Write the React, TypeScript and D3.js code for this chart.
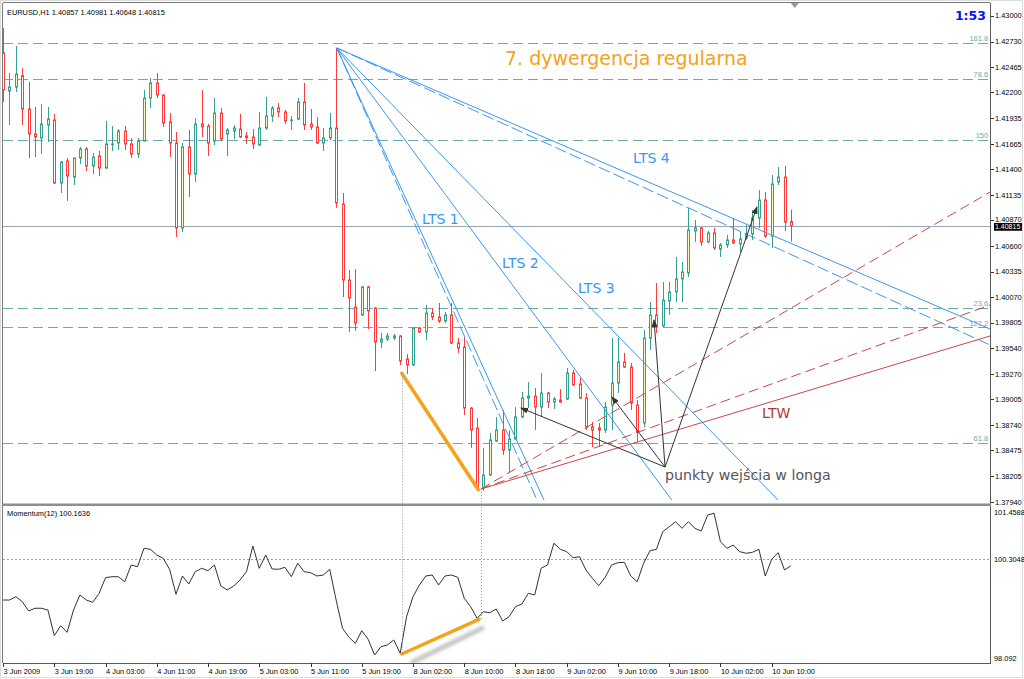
import { useEffect, useRef } from "react";
import * as d3 from "d3";

const W = 1024;
const H = 679;

// bar index -> label (H1 bars, every 8 bars)
const timeBars = [0, 8, 16, 24, 32, 40, 48, 56, 64, 72, 80, 88, 96, 104, 112, 120];
const timeLabels = ["3 Jun 2009", "3 Jun 19:00", "4 Jun 03:00", "4 Jun 11:00", "4 Jun 19:00", "5 Jun 03:00", "5 Jun 11:00", "5 Jun 19:00", "8 Jun 02:00", "8 Jun 10:00", "8 Jun 18:00", "9 Jun 02:00", "9 Jun 10:00", "9 Jun 18:00", "10 Jun 02:00", "10 Jun 10:00"];

const priceTicks = [1.43, 1.4273, 1.42465, 1.422, 1.41935, 1.41665, 1.414, 1.41135, 1.4087, 1.406, 1.40335, 1.4007, 1.39805, 1.3954, 1.3927, 1.39005, 1.3874, 1.38475, 1.38205, 1.3794];

const opens = [
  1.42611, 1.42215, 1.42257, 1.42375, 1.42028, 1.41768, 1.41726, 1.41861, 1.41913, 1.41258,
  1.41487, 1.4132, 1.41518, 1.41612, 1.41435, 1.41539, 1.41414, 1.41659, 1.41674, 1.41799,
  1.41664, 1.4156, 1.41695, 1.42142, 1.42299, 1.42174, 1.41893, 1.41674, 1.4079, 1.41633,
  1.41352, 1.41872, 1.41851, 1.41695, 1.41986, 1.41768, 1.41799, 1.4182, 1.41747, 1.41737,
  1.41653, 1.4183, 1.41955, 1.42038, 1.41997, 1.41908, 1.41924, 1.42101, 1.41872, 1.41841,
  1.41674, 1.41726, 1.4183, 1.41039, 1.40248, 1.39967, 1.39884, 1.40176, 1.39957, 1.39603,
  1.39634, 1.39645, 1.39666, 1.39426, 1.39364, 1.39749, 1.39707, 1.39905, 1.39863, 1.39822,
  1.39884, 1.39593, 1.39551, 1.38916, 1.38708, 1.38084, 1.38219, 1.38573, 1.38687, 1.38479,
  1.38594, 1.38823, 1.3902, 1.39041, 1.38926, 1.39072, 1.38979, 1.39, 1.3901, 1.3928,
  1.39166, 1.3902, 1.38719, 1.38708, 1.38687, 1.38947, 1.39176, 1.39395, 1.39343, 1.38947,
  1.3876, 1.39645, 1.39884, 1.3977, 1.4003, 1.40124, 1.40259, 1.40322, 1.40758, 1.4079,
  1.40644, 1.40738, 1.40571, 1.40613, 1.40665, 1.40623, 1.40686, 1.40727, 1.40894, 1.41081,
  1.40706, 1.41268, 1.4132, 1.40857,
];
const highs = [
  1.42871, 1.42403, 1.42684, 1.42455, 1.42309, 1.42049, 1.4208, 1.42049, 1.41976, 1.41486,
  1.41518, 1.41518, 1.41633, 1.41633, 1.4157, 1.41591, 1.41903, 1.41851, 1.4182, 1.41851,
  1.41726, 1.41726, 1.42226, 1.42351, 1.42403, 1.4218, 1.41986, 1.41789, 1.41674, 1.41809,
  1.41934, 1.42226, 1.41872, 1.42142, 1.42038, 1.4183, 1.41861, 1.41976, 1.41789, 1.4182,
  1.41997, 1.42153, 1.42059, 1.4209, 1.42018, 1.41955, 1.42142, 1.42299, 1.42028, 1.41945,
  1.4183, 1.41986, 1.42663, 1.41154, 1.40352, 1.40362, 1.40186, 1.40186, 1.39967, 1.39697,
  1.39697, 1.39687, 1.39676, 1.39478, 1.39759, 1.39759, 1.39988, 1.39957, 1.40009, 1.39915,
  1.40009, 1.39645, 1.39655, 1.38926, 1.38812, 1.385, 1.38656, 1.38823, 1.38895, 1.38687,
  1.38926, 1.39083, 1.39187, 1.39124, 1.3928, 1.39083, 1.39031, 1.39114, 1.39333, 1.39312,
  1.39228, 1.39072, 1.38771, 1.3876, 1.38979, 1.39645, 1.39645, 1.39489, 1.39385, 1.39,
  1.39728, 1.40019, 1.40217, 1.40228, 1.40228, 1.40488, 1.40436, 1.40998, 1.40873, 1.408,
  1.40758, 1.4079, 1.40633, 1.40717, 1.40894, 1.40748, 1.40821, 1.40977, 1.41185, 1.41164,
  1.41341, 1.41424, 1.41435, 1.40981,
];
const lows = [
  1.42101, 1.41861, 1.42205, 1.41861, 1.41518, 1.41528, 1.4156, 1.41685, 1.41247, 1.41154,
  1.41071, 1.41237, 1.41456, 1.41383, 1.41352, 1.41331, 1.41404, 1.41591, 1.41601, 1.41601,
  1.41518, 1.41518, 1.4169, 1.42038, 1.42142, 1.41841, 1.41528, 1.40696, 1.40748, 1.41112,
  1.41268, 1.41737, 1.41539, 1.41653, 1.41695, 1.41539, 1.41716, 1.41726, 1.41664, 1.41612,
  1.41643, 1.41809, 1.41893, 1.41945, 1.41872, 1.41809, 1.41913, 1.41809, 1.41809, 1.41664,
  1.41591, 1.41705, 1.40998, 1.40071, 1.39707, 1.39718, 1.39874, 1.39738, 1.39301, 1.39541,
  1.39614, 1.39624, 1.39364, 1.3927, 1.39353, 1.39697, 1.39624, 1.39832, 1.39801, 1.39801,
  1.39582, 1.39489, 1.38843, 1.385, 1.38063, 1.38053, 1.38209, 1.38562, 1.38427, 1.3824,
  1.38583, 1.38812, 1.38916, 1.38687, 1.38823, 1.38916, 1.38906, 1.38968, 1.39, 1.39145,
  1.3901, 1.38687, 1.3851, 1.3851, 1.38656, 1.38687, 1.39072, 1.39333, 1.38895, 1.38562,
  1.38719, 1.3952, 1.39697, 1.39759, 1.39884, 1.40019, 1.40019, 1.4028, 1.40644, 1.40602,
  1.40633, 1.40561, 1.40488, 1.40582, 1.40623, 1.4054, 1.40665, 1.40665, 1.4079, 1.40686,
  1.40582, 1.41237, 1.40758, 1.40648,
];
const closes = [
  1.42226, 1.42257, 1.42392, 1.42028, 1.41768, 1.41737, 1.41872, 1.41924, 1.41258, 1.41476,
  1.41331, 1.41518, 1.41612, 1.41435, 1.41528, 1.41414, 1.41664, 1.41664, 1.41799, 1.41664,
  1.4156, 1.41695, 1.42142, 1.42299, 1.42174, 1.41882, 1.41674, 1.4079, 1.41633, 1.41352,
  1.41872, 1.41841, 1.41674, 1.41986, 1.41716, 1.41809, 1.4183, 1.41737, 1.41731, 1.41664,
  1.4183, 1.41955, 1.42038, 1.41997, 1.41903, 1.41913, 1.42101, 1.41861, 1.41841, 1.41674,
  1.41726, 1.4183, 1.4105, 1.40248, 1.40061, 1.39801, 1.40176, 1.39926, 1.39603, 1.39634,
  1.39666, 1.39666, 1.39405, 1.39364, 1.39749, 1.39707, 1.39905, 1.39863, 1.39822, 1.39884,
  1.39593, 1.39541, 1.38916, 1.38687, 1.38094, 1.38219, 1.38583, 1.38687, 1.38479, 1.38594,
  1.38823, 1.3902, 1.39041, 1.38926, 1.39072, 1.38979, 1.3901, 1.38979, 1.3928, 1.39156,
  1.3902, 1.38719, 1.38687, 1.38687, 1.38926, 1.39176, 1.39395, 1.39343, 1.38968, 1.38667,
  1.39645, 1.39884, 1.3977, 1.4004, 1.40124, 1.40259, 1.40332, 1.40769, 1.4079, 1.40644,
  1.40738, 1.40582, 1.40613, 1.40665, 1.40633, 1.40675, 1.40727, 1.40894, 1.41081, 1.40706,
  1.41247, 1.4132, 1.40852, 1.40815,
];

// Momentum(12)
const momentum = [
  99.434, 99.434, 99.505, 99.398, 99.2, 99.258, 99.258, 99.221, 98.674, 98.887,
  98.746, 99.221, 99.541, 99.434, 99.385, 99.577, 99.91, 99.931, 99.931, 99.824,
  100.18, 100.144, 100.536, 100.515, 100.393, 100.323, 100.089, 99.556, 99.946, 99.775,
  100.038, 100.11, 100.059, 100.18, 99.733, 99.648, 99.733, 99.861, 100.038, 100.585,
  100.11, 100.393, 100.095, 100.089, 100.131, 99.931, 100.217, 100.038, 100.016, 99.946,
  99.967, 100.089, 99.434, 98.831, 98.64, 98.512, 98.78, 98.597, 98.262, 98.439,
  98.476, 98.582, 98.299, 99.079, 99.505, 99.754, 99.946, 99.967, 99.754, 99.946,
  99.967, 99.918, 99.471, 99.292, 99.045, 99.185, 99.164, 99.243, 98.987, 99.079,
  99.292, 99.349, 99.577, 99.541, 100.11, 100.18, 100.643, 100.515, 100.464, 100.336,
  100.357, 100.074, 99.897, 99.739, 99.918, 100.18, 100.229, 100.238, 99.946, 99.824,
  100.217, 100.485, 100.515, 100.89, 100.996, 101.103, 100.962, 101.103, 100.962, 100.905,
  101.246, 101.282, 100.677, 100.536, 100.606, 100.464, 100.43, 100.451, 100.515, 99.946,
  100.302, 100.442, 100.074, 100.1636,
];
const momTicks = [101.4588, 100.3048, 98.092];
const momLevel = 100.3048;

const lastPrice = 1.40815;
const fibPrices = [1.42712, 1.42345, 1.41705, 1.39954, 1.39756, 1.38557];
const fibNames = ["161.8", "78.6", "150", "23.6", "127.2", "61.8"];

// trend lines: [bar1, price1, bar2, price2, dashed]
const ltsLines: [number, number, number, number, boolean][] = [
  [52.1, 1.42663, 84.45, 1.37959, false],
  [52.1, 1.42663, 83.36, 1.37959, true],
  [52.1, 1.42663, 104.4, 1.37959, false],
  [52.1, 1.42663, 121.0, 1.37959, false],
  [52.1, 1.42663, 154.1, 1.39738, false],
  [52.1, 1.42663, 154.1, 1.39572, true],
];
const ltwLines: [number, number, number, number, boolean][] = [
  [74.6, 1.38073, 154.1, 1.41164, true],
  [74.6, 1.38073, 154.1, 1.39988, true],
  [74.6, 1.38073, 154.1, 1.39666, false],
];
const entryFrom: [number, number] = [103.35, 1.38302];
const entryTargets: [number, number][] = [
  [80.86, 1.38916],
  [95.07, 1.39031],
  [101.63, 1.39832],
  [117.7, 1.41008],
];
const priceDiv: [number, number][] = [[62.24, 1.39277], [74.2, 1.38065]];
const momDiv: [number, number][] = [[62.24, 98.284], [74.3, 99.023]];
const divBars = [62.24, 74.6];
const divPrices = [1.39277, 1.38073];
const divMoms = [98.284, 99.023];

const notes = [
  { text: "7. dywergencja regularna", bar: 78.37, price: 1.42486, color: "#f7a11a", size: 19 },
  { text: "LTS 1", bar: 65.41, price: 1.40831, color: "#3a97f3", size: 14 },
  { text: "LTS 2", bar: 77.9, price: 1.40373, color: "#3a97f3", size: 14 },
  { text: "LTS 3", bar: 89.76, price: 1.40113, color: "#3a97f3", size: 14 },
  { text: "LTS 4", bar: 98.35, price: 1.41466, color: "#3a97f3", size: 14 },
  { text: "LTW", bar: 118.5, price: 1.38812, color: "#b83232", size: 14 },
  { text: "punkty wejścia w longa", bar: 103.35, price: 1.38167, color: "#555555", size: 14.2 },
];

const SMALL = "'Liberation Sans', Arial, sans-serif";
const BIG = "'DejaVu Sans', Verdana, sans-serif";

export default function App() {
  const svgRef = useRef<SVGSVGElement | null>(null);

  useEffect(() => {
    if (!svgRef.current) return;
    const svg = d3.select(svgRef.current);
    svg.selectAll("*").remove();

    const left = 3, right = 990, top = 3, mainBottom = 503, momTop = 506, bottom = 663;

    const x = d3.scaleLinear().domain([0, 120]).range([3.06, 771.7]);
    const y = d3.scaleLinear().domain([1.3794, 1.43]).range([501.8, 15.6]);
    const ym = d3.scaleLinear().domain([98.092, 101.4588]).range([bottom, momTop - 1]);

    svg.append("rect").attr("width", W).attr("height", H).attr("fill", "#fff");

    const defs = svg.append("defs");
    defs.append("clipPath").attr("id", "mainClip").append("rect")
      .attr("x", left).attr("y", top).attr("width", right - left).attr("height", mainBottom - top);
    defs.append("clipPath").attr("id", "momClip").append("rect")
      .attr("x", left).attr("y", momTop).attr("width", right - left).attr("height", bottom - momTop);
    defs.append("marker").attr("id", "arrow")
      .attr("markerUnits", "userSpaceOnUse").attr("markerWidth", 8).attr("markerHeight", 6)
      .attr("refX", 7).attr("refY", 3).attr("orient", "auto")
      .append("path").attr("d", "M0,0 L8,3 L0,6 Z").attr("fill", "#333");
    defs.append("filter").attr("id", "blur").append("feGaussianBlur").attr("stdDeviation", 1.6);

    // ---- main panel
    const main = svg.append("g").attr("clip-path", "url(#mainClip)");

    main.selectAll(".fib").data(fibPrices).join("line")
      .attr("x1", left).attr("x2", right)
      .attr("y1", d => Math.round(y(d)) + 0.5).attr("y2", d => Math.round(y(d)) + 0.5)
      .attr("stroke", "#6fa9a9").attr("stroke-dasharray", "10,5");

    main.selectAll(".fibl").data(fibPrices).join("text")
      .attr("x", right - 2).attr("y", d => y(d) - 1.8)
      .attr("text-anchor", "end")
      .style("font-family", SMALL).style("font-size", "7.4px")
      .attr("fill", "#6aaaaa")
      .text((_, k) => fibNames[k]);

    main.append("line")
      .attr("x1", left).attr("x2", right)
      .attr("y1", Math.round(y(lastPrice)) + 0.5).attr("y2", Math.round(y(lastPrice)) + 0.5)
      .attr("stroke", "#9aa6b6");

    const bars = opens.map((o, i) => ({ i, o, h: highs[i], l: lows[i], c: closes[i] }));
    const candle = main.selectAll(".candle").data(bars).join("g");
    candle.append("line")
      .attr("x1", d => Math.round(x(d.i)) + 0.5).attr("x2", d => Math.round(x(d.i)) + 0.5)
      .attr("y1", d => y(d.h)).attr("y2", d => y(d.l))
      .attr("stroke", d => (d.c >= d.o ? "#35a08e" : "#ff3c3c"));
    candle.append("rect")
      .attr("x", d => Math.round(x(d.i)) - 0.5)
      .attr("y", d => y(Math.max(d.o, d.c)))
      .attr("width", 2)
      .attr("height", d => Math.max(0.3, y(Math.min(d.o, d.c)) - y(Math.max(d.o, d.c))))
      .attr("fill", d => (d.c >= d.o ? "#f4f7c8" : "#ffffff"))
      .attr("stroke", d => (d.c >= d.o ? "#35a08e" : "#ff3c3c"));

    main.selectAll(".lts").data(ltsLines).join("line")
      .attr("x1", d => x(d[0])).attr("y1", d => y(d[1]))
      .attr("x2", d => x(d[2])).attr("y2", d => y(d[3]))
      .attr("stroke", "#3a97f3").attr("stroke-width", 1)
      .attr("stroke-dasharray", d => (d[4] ? "12,4" : null));

    main.selectAll(".ltw").data(ltwLines).join("line")
      .attr("x1", d => x(d[0])).attr("y1", d => y(d[1]))
      .attr("x2", d => x(d[2])).attr("y2", d => y(d[3]))
      .attr("stroke", "#c84848").attr("stroke-width", 1)
      .attr("stroke-dasharray", d => (d[4] ? "10,5" : null));

    main.selectAll(".arr").data(entryTargets).join("line")
      .attr("x1", x(entryFrom[0])).attr("y1", y(entryFrom[1]))
      .attr("x2", d => x(d[0])).attr("y2", d => y(d[1]))
      .attr("stroke", "#333").attr("stroke-width", 1)
      .attr("marker-end", "url(#arrow)");

    main.append("line")
      .attr("x1", x(priceDiv[0][0])).attr("y1", y(priceDiv[0][1]))
      .attr("x2", x(priceDiv[1][0])).attr("y2", y(priceDiv[1][1]))
      .attr("stroke", "#f7a21b").attr("stroke-width", 3.5).attr("stroke-linecap", "round");

    main.selectAll(".note").data(notes).join("text")
      .attr("x", d => x(d.bar)).attr("y", d => y(d.price))
      .style("font-family", BIG).style("font-size", d => `${d.size}px`)
      .attr("fill", d => d.color)
      .text(d => d.text);

    // ---- momentum panel
    const mom = svg.append("g").attr("clip-path", "url(#momClip)");
    mom.append("line")
      .attr("x1", left).attr("x2", right)
      .attr("y1", Math.round(ym(momLevel)) + 0.5).attr("y2", Math.round(ym(momLevel)) + 0.5)
      .attr("stroke", "#8fa3b3").attr("stroke-dasharray", "2,2");
    mom.append("path")
      .datum(momentum)
      .attr("d", d3.line<number>().x((_, i) => x(i)).y(d => ym(d)))
      .attr("fill", "none").attr("stroke", "#333").attr("stroke-width", 1);
    mom.append("line")
      .attr("x1", x(momDiv[0][0]) + 9).attr("y1", ym(momDiv[0][1]) + 9)
      .attr("x2", x(momDiv[1][0]) + 5).attr("y2", ym(momDiv[1][1]) + 8)
      .attr("stroke", "#c8c8c8").attr("stroke-width", 5).attr("filter", "url(#blur)");
    mom.append("line")
      .attr("x1", x(momDiv[0][0])).attr("y1", ym(momDiv[0][1]))
      .attr("x2", x(momDiv[1][0])).attr("y2", ym(momDiv[1][1]))
      .attr("stroke", "#f7a21b").attr("stroke-width", 3.5).attr("stroke-linecap", "round");

    // dotted verticals linking price and momentum extremes
    svg.selectAll(".vdot").data(divBars).join("line")
      .attr("x1", d => Math.round(x(d)) + 0.5).attr("x2", d => Math.round(x(d)) + 0.5)
      .attr("y1", (_, k) => y(divPrices[k])).attr("y2", (_, k) => ym(divMoms[k]))
      .attr("stroke", "#9a9a9a").attr("stroke-dasharray", "1,2");

    // ---- frame & axes
    const frame = svg.append("g").attr("fill", "none");
    frame.append("rect").attr("x", 0.5).attr("y", 0.5).attr("width", W - 2).attr("height", H - 2)
      .attr("stroke", "#dcdcdc");
    frame.append("line").attr("x1", left).attr("x2", right).attr("y1", top - 0.5).attr("y2", top - 0.5).attr("stroke", "#7a7a7a");
    frame.append("line").attr("x1", left - 0.5).attr("x2", left - 0.5).attr("y1", top).attr("y2", bottom).attr("stroke", "#7a7a7a");
    frame.append("line").attr("x1", right + 0.5).attr("x2", right + 0.5).attr("y1", top).attr("y2", bottom + 1).attr("stroke", "#5a5a5a");
    frame.append("line").attr("x1", left).attr("x2", right + 1).attr("y1", bottom + 0.5).attr("y2", bottom + 0.5).attr("stroke", "#5a5a5a");
    frame.append("rect").attr("x", left).attr("y", mainBottom + 0.5).attr("width", right - left + 1).attr("height", 2.5)
      .attr("fill", "#8e8e8e");

    const axisText = (g: d3.Selection<SVGGElement, unknown, null, undefined>) =>
      g.style("font-family", SMALL).style("font-size", "7.4px").attr("fill", "#000");

    const pAxis = svg.append("g").call(axisText);
    pAxis.selectAll("line").data(priceTicks).join("line")
      .attr("x1", right + 1).attr("x2", right + 4)
      .attr("y1", d => Math.round(y(d)) + 0.5).attr("y2", d => Math.round(y(d)) + 0.5)
      .attr("stroke", "#333");
    pAxis.selectAll("text").data(priceTicks).join("text")
      .attr("x", right + 5).attr("y", d => y(d) + (d === 1.4087 ? 1.6 : 2.7))
      .text(d => d.toFixed(5));

    const mAxis = svg.append("g").call(axisText);
    mAxis.selectAll("text").data(momTicks).join("text")
      .attr("x", right + 4)
      .attr("y", (d, k) => (k === 0 ? momTop + 8.5 : k === momTicks.length - 1 ? bottom - 2 : ym(d) + 2.7))
      .text(d => String(d));

    // last price tag
    svg.append("rect").attr("x", right + 4).attr("y", y(lastPrice) - 2.6).attr("width", 28).attr("height", 7.8)
      .attr("fill", "#000");
    svg.append("text").attr("x", right + 5).attr("y", y(lastPrice) + 3.6)
      .style("font-family", SMALL).style("font-size", "7px").attr("fill", "#fff")
      .text(lastPrice.toFixed(5));

    const tAxis = svg.append("g").call(axisText);
    tAxis.selectAll("line").data(timeBars).join("line")
      .attr("x1", d => Math.round(x(d)) + 0.5).attr("x2", d => Math.round(x(d)) + 0.5)
      .attr("y1", bottom).attr("y2", bottom + 4)
      .attr("stroke", "#333");
    tAxis.selectAll("text").data(timeBars).join("text")
      .attr("x", d => x(d) + 0.5).attr("y", bottom + 10.8)
      .text((_, k) => timeLabels[k]);

    // header texts
    svg.append("text").attr("x", 7).attr("y", 14.5)
      .style("font-family", SMALL).style("font-size", "7.4px").attr("fill", "#000")
      .text("EURUSD,H1  1.40857 1.40981 1.40648 1.40815");
    svg.append("text").attr("x", 7).attr("y", momTop + 10)
      .style("font-family", SMALL).style("font-size", "7.4px").attr("fill", "#000")
      .text(`Momentum(12) ${momentum[momentum.length - 1].toFixed(4)}`);
    svg.append("text").attr("x", right - 4).attr("y", 20)
      .attr("text-anchor", "end")
      .style("font-family", BIG).style("font-size", "12.5px").style("font-weight", "bold")
      .attr("fill", "#1010ee")
      .text("1:53");
    const sx = x(123.6);
    svg.append("path").attr("d", `M${sx - 4},${top} L${sx + 4},${top} L${sx},${top + 5} Z`).attr("fill", "#9a9a9a");
  }, []);

  return <svg ref={svgRef} width={W} height={H} style={{ position: "absolute", left: 0, top: 0 }} />;
}
